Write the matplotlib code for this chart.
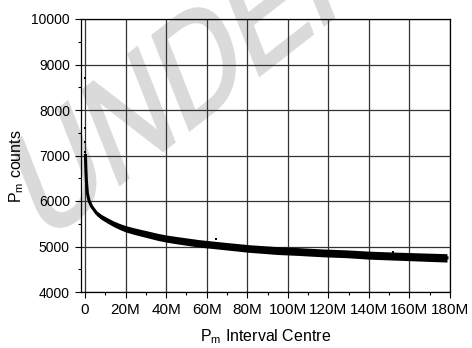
import matplotlib
matplotlib.use("Agg")
import matplotlib.pyplot as plt
from matplotlib.ticker import MultipleLocator, FuncFormatter
from matplotlib.textpath import TextPath
from matplotlib.patches import PathPatch
from matplotlib.font_manager import FontProperties
from matplotlib.transforms import Affine2D, IdentityTransform

plt.rcParams['font.family'] = ['Liberation Sans', 'DejaVu Sans']
plt.rcParams['mathtext.default'] = 'regular'

# ---- data ----
# band centre line (x in millions, counts)
band_x = [0.2, 0.4, 0.65, 1.15, 2.0, 3.3, 5.7, 8, 10.7, 14, 17, 20, 24, 30,
          36, 40, 45, 56, 70, 81, 95, 105, 117, 129, 140, 152, 165, 178.5]
band_y = [7000, 6700, 6450, 6170, 6000, 5875, 5730, 5650, 5580, 5500, 5440,
          5390, 5340, 5275, 5210, 5175, 5140, 5070, 5005, 4955, 4910, 4890,
          4860, 4840, 4810, 4790, 4770, 4750]
# half-spread of the scatter band (counts)
band_hw = [20, 25, 30, 35, 40, 45, 50, 55, 58, 62, 66, 70, 72, 75, 78, 78,
           80, 82, 82, 84, 86, 86, 86, 86, 88, 88, 90, 92]
# isolated points
pts_x = [0.0, 0.05, 0.1, 0.15, 64.7, 152.0]
pts_y = [8710, 7610, 7300, 7085, 5160, 4885]

xticks_m = [0, 20, 40, 60, 80, 100, 120, 140, 160, 180]

fig = plt.figure(figsize=(4.72, 3.48), dpi=100)
ax = fig.add_axes([81/472, 1-292/348, (450-81)/472, (292-19)/348])
ax.patch.set_alpha(0)

# watermark (drawn behind the axes)
tp = TextPath((0, 0), "UNDER REVIEW", size=156,
              prop=FontProperties(family='Liberation Sans'))
wm_tr = Affine2D().rotate_deg(29).scale(0.71, 1.0).translate(42, 103)
wm = PathPatch(wm_tr.transform_path(tp), facecolor='#dadada', edgecolor='#dadada',
               linewidth=2.2, transform=IdentityTransform(), zorder=-1)
fig.add_artist(wm)

bx = [v*1e6 for v in band_x]
lo = [c-h for c, h in zip(band_y, band_hw)]
hi = [c+h for c, h in zip(band_y, band_hw)]
ax.fill_between(bx, lo, hi, color='black', lw=0, zorder=3)
ax.plot(bx, band_y, color='black', lw=2.2, zorder=3)
ax.scatter([v*1e6 for v in pts_x], pts_y, s=4, marker='s', color='black', lw=0, zorder=3)

ax.set_xlim(-2e6, 180e6)
ax.set_ylim(4000, 10000)
ax.set_xticks([v*1e6 for v in xticks_m])
ax.xaxis.set_major_formatter(FuncFormatter(lambda v, p: '0' if v == 0 else f'{int(round(v/1e6))}M'))
ax.xaxis.set_minor_locator(MultipleLocator(10e6))
ax.yaxis.set_major_locator(MultipleLocator(1000))
ax.yaxis.set_minor_locator(MultipleLocator(500))
ax.tick_params(which='major', direction='out', length=4, width=0.8, labelsize=10, pad=4)
ax.tick_params(axis='x', which='major', labelsize=11, pad=4)
ax.tick_params(which='minor', direction='out', length=2.5, width=0.8)
ax.grid(True, which='major', color='#333333', lw=0.9, zorder=1)
ax.set_axisbelow(True)
for s in ax.spines.values():
    s.set_linewidth(0.9)
    s.set_color('black')

ax.set_xlabel('P$_{m}$ Interval Centre', fontsize=11.5, labelpad=7)
ax.set_ylabel('P$_{m}$ counts', fontsize=11.5)
ax.yaxis.set_label_coords(-0.15, 0.46)

fig.savefig('out.png', dpi=100)
